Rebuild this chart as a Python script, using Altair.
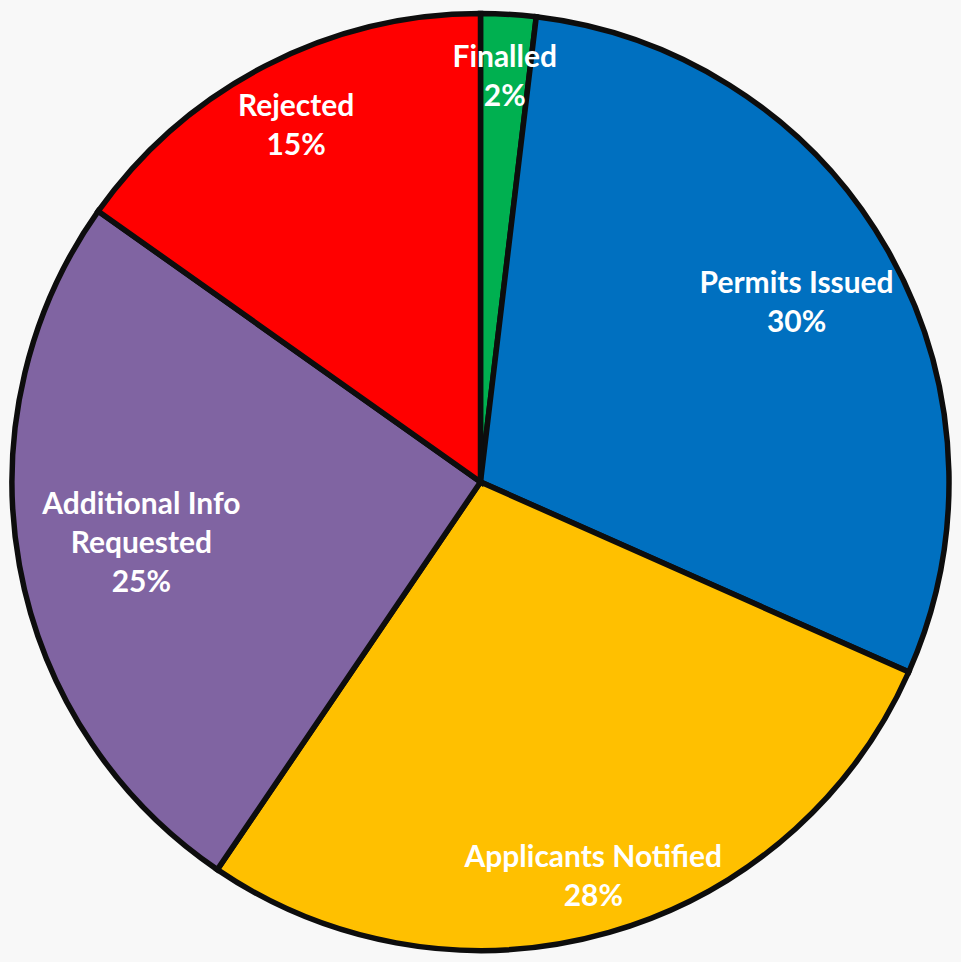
import altair as alt
import pandas as pd

categories = ["Finalled", "Permits Issued", "Applicants Notified", "Additional Info\nRequested", "Rejected"]
counts = [3, 47, 44, 40, 24]
colors = ["#00B050", "#0070C0", "#FFC000", "#8064A2", "#FF0000"]

# label placement (layout only): distance of each label from the pie centre, px
label_radius = [407, 364, 411, 345, 402]

total = sum(counts)
df = pd.DataFrame({
    "category": categories,
    "count": counts,
    "order": list(range(len(categories))),
})
df["label"] = [f"{c}\n{round(n / total * 100)}%" for c, n in zip(categories, counts)]
df["nlines"] = [s.count("\n") + 1 for s in df["label"]]
df["lr"] = label_radius

R = 469
LH = 39

pie = alt.Chart(df).mark_arc(outerRadius=R, stroke="#0d0d0d", strokeWidth=5.5, strokeJoin="miter").encode(
    theta=alt.Theta("count:Q", stack=True),
    order=alt.Order("order:Q"),
    color=alt.Color("category:N", scale=alt.Scale(domain=categories, range=colors), legend=None),
)

text_base = alt.Chart(df).transform_window(
    cum="sum(count)", sort=[alt.SortField("order")], frame=[None, 0]
).transform_joinaggregate(
    tot="sum(count)"
).transform_calculate(
    mid="(datum.cum - datum.count / 2) / datum.tot * 2 * PI"
)

layers = [pie]
for n in sorted(df["nlines"].unique()):
    layers.append(
        text_base.transform_filter(alt.datum.nlines == int(n)).mark_text(
            font="Lato", fontWeight="bold", fontSize=30, color="white",
            lineBreak="\n", lineHeight=LH, align="center", baseline="middle",
            dy=-(int(n) - 1) * LH / 2 + 1,
        ).encode(
            text="label:N",
            theta=alt.Theta("mid:Q", scale=None),
            radius=alt.Radius("lr:Q", scale=None),
        )
    )

chart = alt.layer(*layers).properties(
    width=962, height=964,
    background="#f8f8f8",
    padding={"left": 0, "top": 0, "right": 0, "bottom": 0},
    autosize=alt.AutoSizeParams(type="none"),
).configure_view(stroke=None)

chart.save("out.html", embed_options={"renderer": "svg", "actions": False})
